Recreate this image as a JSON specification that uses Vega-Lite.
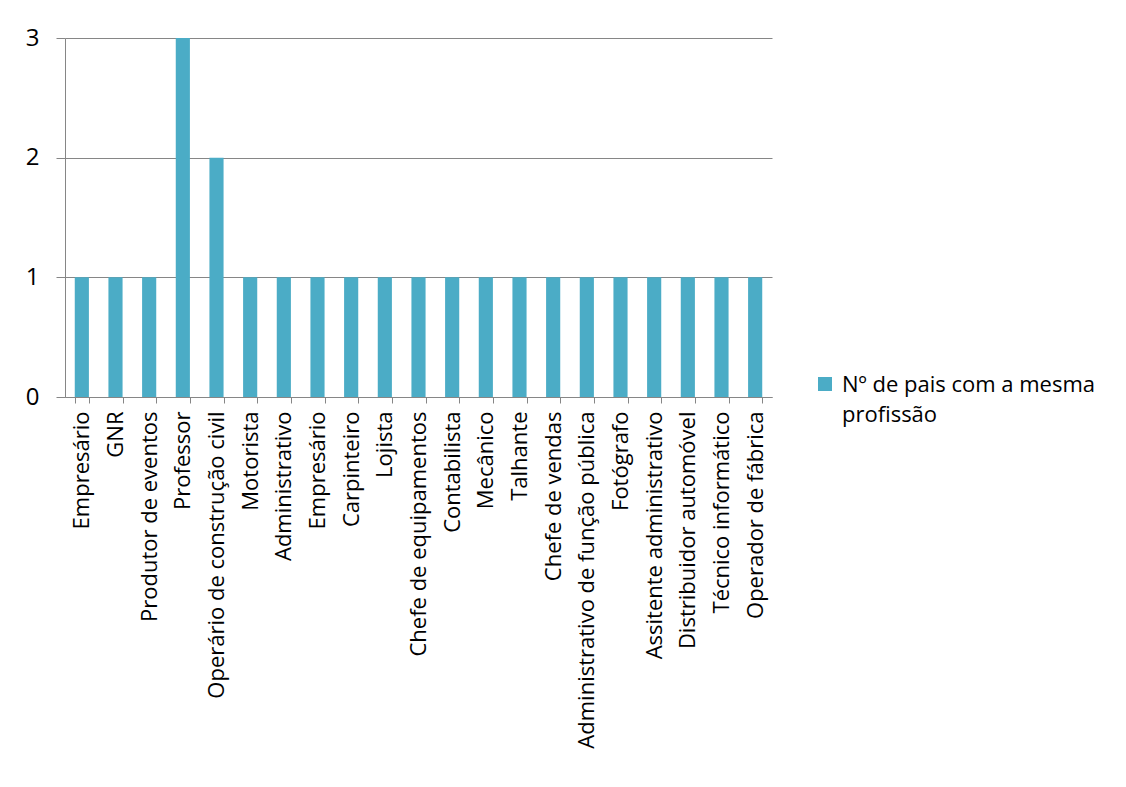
{
  "$schema": "https://vega.github.io/schema/vega-lite/v6.json",
  "autosize": {"type": "none"},
  "width": 707,
  "height": 359,
  "padding": {"left": 65, "top": 38, "right": 354, "bottom": 390},
  "background": "white",
  "config": {
    "view": {"stroke": null},
    "font": "Open Sans",
    "axis": {"labelFont": "Open Sans", "labelColor": "#000000", "labelFontSize": 18}
  },
  "data": {
    "values": [
      {"profissao": "Empresário", "serie": "Nº de pais com a mesma profissão", "n": 1},
      {"profissao": "GNR", "serie": "Nº de pais com a mesma profissão", "n": 1},
      {"profissao": "Produtor de eventos", "serie": "Nº de pais com a mesma profissão", "n": 1},
      {"profissao": "Professor", "serie": "Nº de pais com a mesma profissão", "n": 3},
      {"profissao": "Operário de construção civil", "serie": "Nº de pais com a mesma profissão", "n": 2},
      {"profissao": "Motorista", "serie": "Nº de pais com a mesma profissão", "n": 1},
      {"profissao": "Administrativo", "serie": "Nº de pais com a mesma profissão", "n": 1},
      {"profissao": "Empresário ", "serie": "Nº de pais com a mesma profissão", "n": 1},
      {"profissao": "Carpinteiro", "serie": "Nº de pais com a mesma profissão", "n": 1},
      {"profissao": "Lojista", "serie": "Nº de pais com a mesma profissão", "n": 1},
      {"profissao": "Chefe de equipamentos", "serie": "Nº de pais com a mesma profissão", "n": 1},
      {"profissao": "Contabilista", "serie": "Nº de pais com a mesma profissão", "n": 1},
      {"profissao": "Mecânico", "serie": "Nº de pais com a mesma profissão", "n": 1},
      {"profissao": "Talhante", "serie": "Nº de pais com a mesma profissão", "n": 1},
      {"profissao": "Chefe de vendas", "serie": "Nº de pais com a mesma profissão", "n": 1},
      {"profissao": "Administrativo de função pública", "serie": "Nº de pais com a mesma profissão", "n": 1},
      {"profissao": "Fotógrafo", "serie": "Nº de pais com a mesma profissão", "n": 1},
      {"profissao": "Assitente administrativo", "serie": "Nº de pais com a mesma profissão", "n": 1},
      {"profissao": "Distribuidor automóvel", "serie": "Nº de pais com a mesma profissão", "n": 1},
      {"profissao": "Técnico informático", "serie": "Nº de pais com a mesma profissão", "n": 1},
      {"profissao": "Operador de fábrica", "serie": "Nº de pais com a mesma profissão", "n": 1}
    ]
  },
  "mark": {"type": "bar"},
  "encoding": {
    "x": {
      "field": "profissao",
      "type": "nominal",
      "sort": null,
      "scale": {"paddingInner": 0.58, "paddingOuter": 0.29},
      "axis": {
        "title": null,
        "labelAngle": -90,
        "labelAlign": "right",
        "labelBaseline": "middle",
        "labelPadding": 8,
        "labelLimit": 450,
        "labelFontSize": 22,
        "tickBand": "extent",
        "tickSize": 6,
        "tickColor": "#868686",
        "domainColor": "#868686",
        "grid": false
      }
    },
    "y": {
      "field": "n",
      "type": "quantitative",
      "scale": {"domain": [0, 3]},
      "axis": {
        "title": null,
        "values": [0, 1, 2, 3],
        "format": "d",
        "tickSize": 9,
        "tickColor": "#868686",
        "domainColor": "#868686",
        "gridColor": "#868686",
        "gridOpacity": 1,
        "labelFontSize": 24,
        "labelPadding": 17
      }
    },
    "color": {
      "field": "serie",
      "type": "nominal",
      "scale": {"range": ["#4BACC6"]},
      "legend": {
        "title": null,
        "orient": "none",
        "legendX": 749,
        "legendY": 335,
        "symbolType": "square",
        "symbolSize": 196,
        "symbolStrokeWidth": 0,
        "labelFont": "Open Sans",
        "labelFontSize": 22,
        "labelColor": "#000000",
        "labelOffset": 6,
        "labelLimit": 450,
        "labelBaseline": "alphabetic",
        "labelExpr": "['Nº de pais com a mesma', 'profissão']",
        "encode": {
          "labels": {"update": {"dy": {"value": 8}, "lineHeight": {"value": 30}}}
        }
      }
    }
  }
}
